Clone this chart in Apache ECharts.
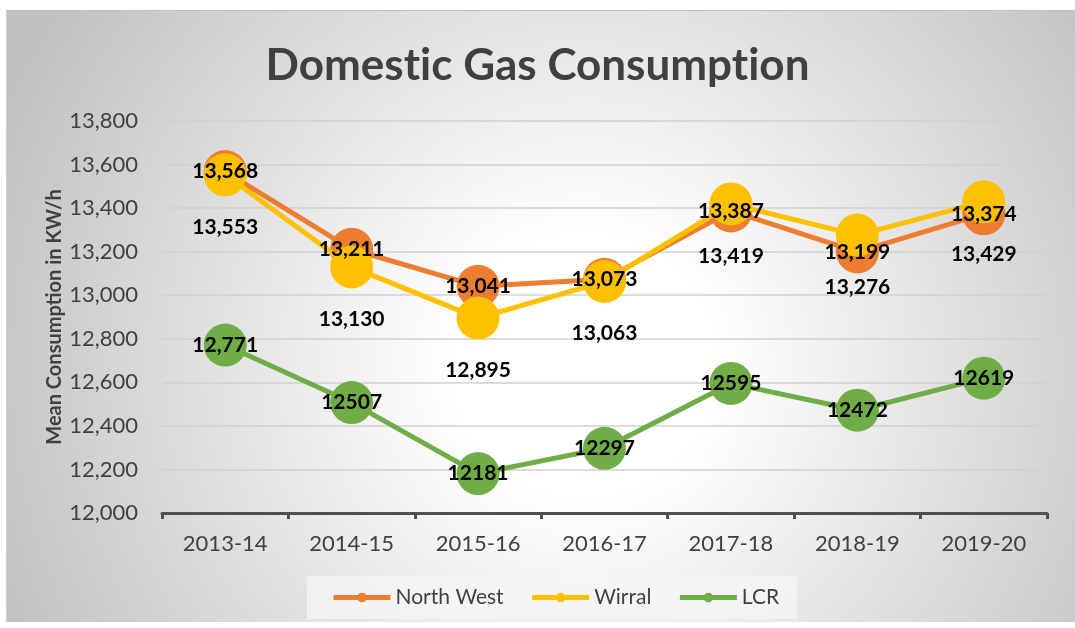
<!DOCTYPE html>
<html>
<head>
<meta charset="utf-8">
<script src="https://cdn.jsdelivr.net/npm/echarts@6/dist/echarts.min.js"></script>
<style>
  html, body { margin: 0; padding: 0; background: #fff; }
  #bg {
    position: absolute; left: 6px; top: 10px; width: 1069px; height: 612px;
    border-top: 1px solid #bfbfbf; border-left: 1px solid #d0d0d0;
    box-sizing: border-box;
    background: radial-gradient(circle at 54% 58%, #ffffff 0px, #ffffff 130px, #c0c0c0 640px);
  }
  #chart { position: absolute; left: 0; top: 0; width: 1075px; height: 628px; }
</style>
</head>
<body>
<div id="bg"></div>
<div id="chart"></div>
<script>
const years = ['2013-14', '2014-15', '2015-16', '2016-17', '2017-18', '2018-19', '2019-20']
const northWest = [13568, 13211, 13041, 13073, 13387, 13199, 13374]
const wirral = [13553, 13130, 12895, 13063, 13419, 13276, 13429]
const lcr = [12771, 12507, 12181, 12297, 12595, 12472, 12619]
// LCR labels in the original only have a thousands separator on the first point
const lcrLabels = ['12,771', '12507', '12181', '12297', '12595', '12472', '12619']

const fmt = function(v) {
  return Number(v).toLocaleString('en-US')
}

const chart = echarts.init(document.getElementById('chart'), null, { renderer: 'canvas' })

const labelStyle = {
  show: true,
  color: '#000',
  fontFamily: 'Lato',
  fontWeight: 'bold',
  fontSize: 21
}

const titleStyle = {
  fontFamily: 'Lato',
  fontWeight: 'bold',
  fontSize: 44,
  color: '#404040'
}

const option = {
  backgroundColor: 'transparent',
  textStyle: { fontFamily: 'Lato' },
  title: {
    // split in rich pieces so Lato does not draw its "ti" ligature
    text: '{t|Domest}{t|ic Gas Consumpt}{t|ion}',
    left: 'center',
    top: 39,
    textStyle: Object.assign({}, titleStyle, { rich: { t: titleStyle } })
  },
  legend: {
    bottom: 9,
    left: 307,
    itemWidth: 57,
    itemHeight: 12,
    itemGap: 26,
    padding: [11, 18, 11, 24],
    backgroundColor: 'rgba(245,245,245,0.75)',
    lineStyle: { width: 5 },
    textStyle: { fontFamily: 'Lato', fontSize: 21, color: '#404040' },
    data: ['North West', 'Wirral', 'LCR']
  },
  grid: {
    left: 162,
    right: 28,
    top: 121,
    bottom: 115
  },
  xAxis: {
    type: 'category',
    data: years,
    boundaryGap: true,
    axisLine: { lineStyle: { color: '#505050', width: 3 } },
    axisTick: { show: true, length: 6, lineStyle: { color: '#505050', width: 3 } },
    axisLabel: { margin: 20, fontFamily: 'Lato', fontSize: 22, color: '#404040' }
  },
  yAxis: {
    type: 'value',
    min: 12000,
    max: 13800,
    interval: 200,
    name: 'Mean Consumption in KW/h',
    nameLocation: 'middle',
    nameGap: 97,
    nameMoveOverlap: false,
    nameTextStyle: { fontFamily: 'Lato', fontWeight: 'bold', fontSize: 20, color: '#404040' },
    axisLine: { show: false },
    axisTick: { show: false },
    splitLine: { lineStyle: { color: '#d0d0d0', width: 1.5 } },
    axisLabel: {
      margin: 24,
      fontFamily: 'Lato',
      fontSize: 22,
      color: '#404040',
      formatter: fmt
    }
  },
  series: [
    {
      name: 'North West',
      type: 'line',
      data: northWest,
      symbol: 'circle',
      symbolSize: 43,
      color: '#ED7D31',
      lineStyle: { width: 5, color: '#ED7D31' },
      z: 2
    },
    {
      name: 'Wirral',
      type: 'line',
      data: wirral,
      symbol: 'circle',
      symbolSize: 43,
      color: '#FFC000',
      lineStyle: { width: 5, color: '#FFC000' },
      label: Object.assign({}, labelStyle, {
        position: 'bottom',
        distance: 20,
        formatter: function(p) { return fmt(p.value) }
      }),
      z: 3
    },
    {
      // North West labels sit above the Wirral markers, so they get their own layer
      name: 'North West labels',
      type: 'line',
      data: northWest,
      symbol: 'circle',
      symbolSize: 2,
      itemStyle: { color: 'rgba(0,0,0,0)' },
      lineStyle: { width: 0, color: 'rgba(0,0,0,0)' },
      silent: true,
      label: Object.assign({}, labelStyle, {
        position: 'inside',
        formatter: function(p) { return fmt(p.value) }
      }),
      z: 5
    },
    {
      name: 'LCR',
      type: 'line',
      data: lcr,
      symbol: 'circle',
      symbolSize: 43,
      color: '#70AD47',
      lineStyle: { width: 5, color: '#70AD47' },
      label: Object.assign({}, labelStyle, {
        position: 'inside',
        formatter: function(p) { return lcrLabels[p.dataIndex] }
      }),
      z: 4
    }
  ]
}

chart.setOption(option)
</script>
</body>
</html>
